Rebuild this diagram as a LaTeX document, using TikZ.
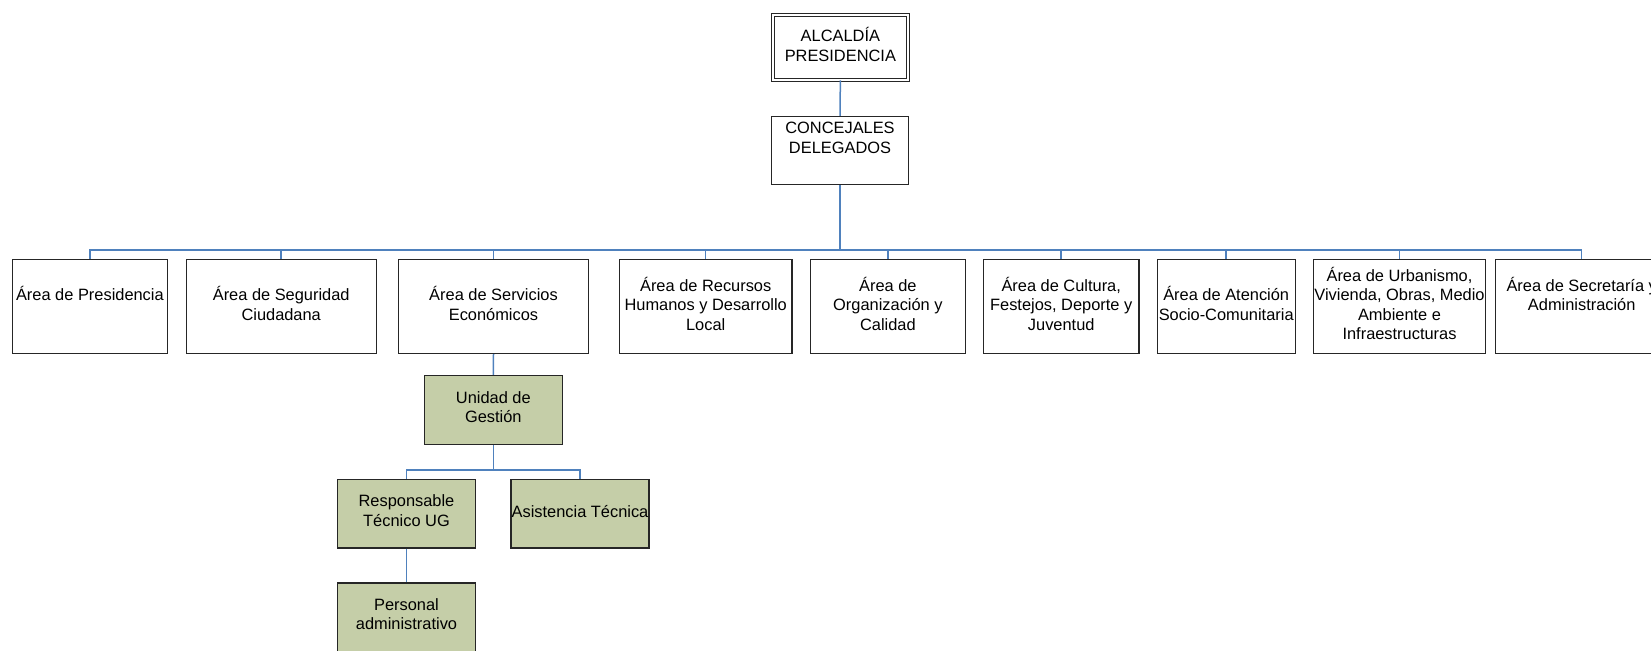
\documentclass[tikz,border=0pt]{standalone}
\usepackage{fontspec}
\setmainfont{Liberation Sans}
\newdimen\pxu
\pxu=0.75pt
\definecolor{connblue}{RGB}{79,129,189}
\definecolor{boxline}{RGB}{38,38,38}
\definecolor{greenfill}{RGB}{197,206,168}
\tikzset{
  areabox/.style={draw=boxline, line width=1.3\pxu, rectangle, inner sep=0pt,
    align=center, font=\fontsize{12.3}{14.6}\selectfont,
    execute at begin node=\strut, execute at end node=\strut},
  greenbox/.style={areabox, fill=greenfill},
  conn/.style={draw=connblue, line width=1.5\pxu},
}
\begin{document}
\begin{tikzpicture}[x=0.75pt, y=-0.75pt]
\useasboundingbox (0,0) rectangle (1651,650);
% top
\node[areabox, double, double distance=2.1\pxu, line width=1\pxu, minimum width=135\pxu, minimum height=65\pxu] (alc) at (840.35,47.35) {ALCALDÍA\\PRESIDENCIA};
\node[areabox, minimum width=137.6\pxu, minimum height=68.3\pxu] (conc) at (840,150.65) {CONCEJALES\\DELEGADOS\\\strut};
% areas
\node[areabox, minimum width=155.3\pxu, minimum height=94\pxu] (a1) at (89.9,306.5) {Área de Presidencia\\\strut};
\node[areabox, minimum width=190\pxu, minimum height=94\pxu] (a2) at (281.2,306.5) {Área de Seguridad\\Ciudadana};
\node[areabox, minimum width=190\pxu, minimum height=94\pxu] (a3) at (493.5,306.5) {Área de Servicios\\Económicos};
\node[areabox, minimum width=172.3\pxu, minimum height=94\pxu] (a4) at (705.7,306.5) {Área de Recursos\\Humanos y Desarrollo\\Local};
\node[areabox, minimum width=155.3\pxu, minimum height=94\pxu] (a5) at (887.9,306.5) {Área de\\Organización y\\Calidad};
\node[areabox, minimum width=155.3\pxu, minimum height=94\pxu] (a6) at (1061.2,306.5) {Área de Cultura,\\Festejos, Deporte y\\Juventud};
\node[areabox, minimum width=138\pxu, minimum height=94\pxu] (a7) at (1226.2,306.5) {Área de Atención\\Socio-Comunitaria};
\node[areabox, minimum width=172.6\pxu, minimum height=94\pxu] (a8) at (1399.5,306.5) {Área de Urbanismo,\\Vivienda, Obras, Medio\\Ambiente e\\Infraestructuras};
\node[areabox, minimum width=173\pxu, minimum height=94\pxu] (a9) at (1581.7,306.5) {Área de Secretaría y\\Administración\\\strut};
% green
\node[greenbox, minimum width=137.7\pxu, minimum height=69\pxu] (unid) at (493.3,410) {Unidad de\\Gestión};
\node[greenbox, minimum width=138\pxu, minimum height=68.3\pxu] (resp) at (406.5,513.7) {Responsable\\Técnico UG};
\node[greenbox, minimum width=138\pxu, minimum height=68.3\pxu] (asis) at (580,513.7) {Asistencia Técnica};
\node[greenbox, minimum width=138\pxu, minimum height=68.3\pxu] (pers) at (406.5,617) {Personal\\administrativo};
% buses
\coordinate (bus) at (0,250);
\coordinate (sbus) at (0,470);
% connectors
\draw[conn] (alc.south) -- (conc.north);
\foreach \n in {a1,a2,a3,a4,a5,a6,a7,a8,a9}{
  \draw[conn] (conc.south) -- (conc.south |- bus) -| (\n.north);
}
\draw[conn] (a3.south) -- (unid.north);
\draw[conn] (unid.south) -- (unid.south |- sbus) -| (resp.north);
\draw[conn] (unid.south) -- (unid.south |- sbus) -| (asis.north);
\draw[conn] (resp.south) -- (pers.north);
\end{tikzpicture}
\end{document}
